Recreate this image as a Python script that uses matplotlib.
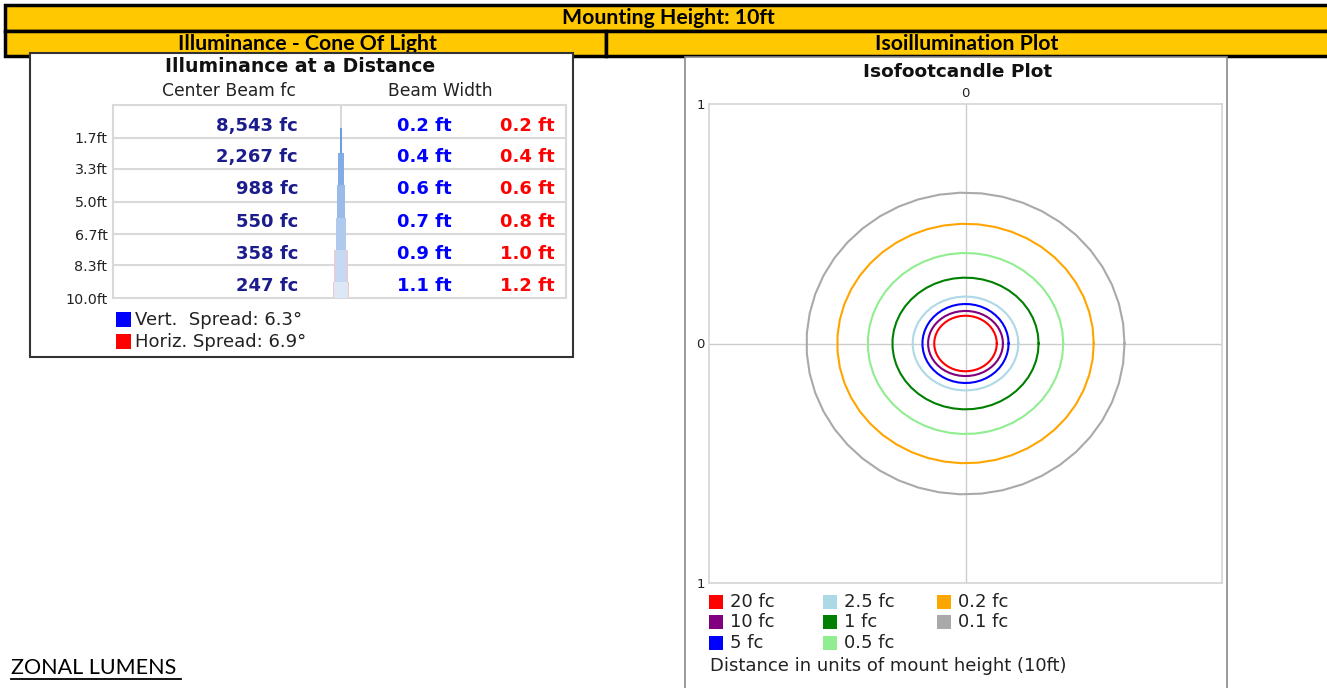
import numpy as np
import matplotlib
matplotlib.use("Agg")
import matplotlib.pyplot as plt
from matplotlib.patches import Rectangle
import matplotlib.colors as mcolors

# ---------------- data ----------------
header_title = "Mounting Height: 10ft"
left_header = "Illuminance - Cone Of Light"
right_header = "Isoillumination Plot"

distances = [1.7, 3.3, 5.0, 6.7, 8.3, 10.0]
distance_labels = ["1.7ft", "3.3ft", "5.0ft", "6.7ft", "8.3ft", "10.0ft"]
center_fc = [8543, 2267, 988, 550, 358, 247]
vert_width = [0.2, 0.4, 0.6, 0.7, 0.9, 1.1]
horiz_width = [0.2, 0.4, 0.6, 0.8, 1.0, 1.2]
vert_spread = 6.3
horiz_spread = 6.9

iso_levels = ["20 fc", "10 fc", "5 fc", "2.5 fc", "1 fc", "0.5 fc", "0.2 fc", "0.1 fc"]
iso_colors = ["#FF0000", "#800080", "#0000FF", "#ADD8E6", "#008000", "#90EE90", "#FFA500", "#A9A9A9"]
iso_rx = [0.122, 0.146, 0.168, 0.206, 0.285, 0.381, 0.500, 0.620]
iso_ry = [0.116, 0.136, 0.165, 0.196, 0.275, 0.378, 0.500, 0.630]

# ---------------- figure ----------------
W, H = 1327, 688
fig = plt.figure(figsize=(W / 100, H / 100), dpi=100)
fig.patch.set_facecolor("white")


def box(x0, y0, x1, y1):
    return [x0 / W, 1 - y1 / H, (x1 - x0) / W, (y1 - y0) / H]


bg = fig.add_axes([0, 0, 1, 1])
bg.set_xlim(0, W)
bg.set_ylim(H, 0)
bg.axis("off")

HFONT = "Lato"
TFONT = "DejaVu Sans"
GOLD = "#FFC800"
TXT = "#222222"

# header bars
bg.add_patch(Rectangle((5, 5), W, 26, facecolor=GOLD, edgecolor="black", lw=2.5, zorder=1))
bg.add_patch(Rectangle((5, 31), 601, 25, facecolor=GOLD, edgecolor="black", lw=2.5, zorder=1))
bg.add_patch(Rectangle((606, 31), W, 25, facecolor=GOLD, edgecolor="black", lw=2.5, zorder=1))
bg.text(668, 18, header_title, ha="center", va="center", fontsize=15.3, fontweight="bold",
        family=HFONT, zorder=2)
bg.text(307, 43.5, left_header, ha="center", va="center", fontsize=15.3, fontweight="bold",
        family=HFONT, zorder=2)
bg.text(967, 43.5, right_header, ha="center", va="center", fontsize=15.3, fontweight="bold",
        family=HFONT, zorder=2)

# left panel frame
bg.add_patch(Rectangle((30, 53), 543, 304, facecolor="white", edgecolor="#333333", lw=1.5, zorder=3))
bg.text(300, 67, "Illuminance at a Distance", ha="center", va="center", fontsize=13.6,
        fontweight="bold", family=TFONT, color="#111111", zorder=4)
bg.text(229, 91, "Center Beam fc", ha="center", va="center", fontsize=12.3,
        family=TFONT, color=TXT, zorder=4)
bg.text(440, 91, "Beam Width", ha="center", va="center", fontsize=12.3,
        family=TFONT, color=TXT, zorder=4)

# right panel frame
bg.add_patch(Rectangle((685, 57), 542, 640, facecolor="white", edgecolor="#8a8a8a", lw=1.2, zorder=3))
bg.text(958, 72, "Isofootcandle Plot", ha="center", va="center", fontsize=13.3,
        fontweight="bold", family=TFONT, color="#111111", zorder=4)

# zonal lumens
bg.text(11, 668, "ZONAL LUMENS", ha="left", va="center", fontsize=15.5, family=HFONT,
        color="black", zorder=4)
bg.plot([11, 181], [679, 679], color="black", lw=1.3, zorder=4)

# ---------------- table (illuminance at a distance) ----------------
tx0, tx1, ty0, ty1 = 113, 566, 105, 298
tab = fig.add_axes(box(tx0, ty0, tx1, ty1), zorder=5)
tab.set_xlim(tx0, tx1)
tab.set_ylim(distances[-1], 0)
tab.patch.set_alpha(0)
for s in tab.spines.values():
    s.set_color("#d9d9d9")
    s.set_linewidth(1.5)
for d in distances[:-1]:
    tab.axhline(d, color="#d9d9d9", lw=1.5, zorder=1)
tab.axvline(341, color="#d9d9d9", lw=1.5, zorder=1)
tab.set_xticks([])
tab.set_yticks(distances)
tab.set_yticklabels(distance_labels, fontsize=10.3, family=TFONT, color=TXT)
tab.tick_params(axis="y", length=0, pad=4)

prev = 0.0
for i, d in enumerate(distances):
    ym = (prev + d) / 2 + 0.22
    tab.text(298, ym, f"{center_fc[i]:,} fc", ha="right", va="center", fontsize=13,
             fontweight="bold", family=TFONT, color="#1c1c8c", zorder=3)
    tab.text(452, ym, f"{vert_width[i]:.1f} ft", ha="right", va="center", fontsize=13,
             fontweight="bold", family=TFONT, color="#0000FF", zorder=3)
    tab.text(555, ym, f"{horiz_width[i]:.1f} ft", ha="right", va="center", fontsize=13,
             fontweight="bold", family=TFONT, color="#FF0000", zorder=3)
    prev = d

# cone
cone = fig.add_axes(box(321, ty0, 361, ty1), zorder=6)
cone.set_xlim(-1.5, 1.5)
cone.set_ylim(distances[-1], 0)
cone.axis("off")
top_c = np.array(mcolors.to_rgb("#6d9de0"))
bot_c = np.array(mcolors.to_rgb("#dde8f7"))
n = len(distances)
for i, d in enumerate(distances):
    y_start = (distances[i - 1] + d) / 2 if i > 0 else d * 0.7
    y_end = (d + distances[i + 1]) / 2 if i < n - 1 else d
    ys = [y_start, y_end]
    cone.fill_betweenx(ys, -horiz_width[i] / 2, horiz_width[i] / 2, color="#f5c6c6", lw=0)
    c = top_c + (bot_c - top_c) * i / (n - 1)
    cone.fill_betweenx(ys, -vert_width[i] / 2, vert_width[i] / 2, color=c, lw=0)

# left legend
bg.add_patch(Rectangle((116, 312), 15, 15, facecolor="#0000FF", edgecolor="none", zorder=4))
bg.add_patch(Rectangle((116, 334), 15, 15, facecolor="#FF0000", edgecolor="none", zorder=4))
bg.text(135, 320, f"Vert.  Spread: {vert_spread}°", ha="left", va="center", fontsize=13,
        family=TFONT, color=TXT, zorder=4)
bg.text(135, 342, f"Horiz. Spread: {horiz_spread}°", ha="left", va="center", fontsize=13,
        family=TFONT, color=TXT, zorder=4)

# ---------------- isofootcandle plot ----------------
iso = fig.add_axes(box(709, 104, 1222, 583), zorder=5)
iso.set_xlim(-1, 1)
iso.set_ylim(-1, 1)
iso.patch.set_alpha(0)
for s in iso.spines.values():
    s.set_color("#d4d4d4")
    s.set_linewidth(1.2)
iso.axhline(0, color="#cccccc", lw=1.0, zorder=1)
iso.axvline(0, color="#cccccc", lw=1.0, zorder=1)
iso.xaxis.tick_top()
iso.set_xticks([0])
iso.set_xticklabels(["0"], fontsize=9.5, family=TFONT, color=TXT)
iso.set_yticks([1, 0, -1])
iso.set_yticklabels(["1", "0", "1"], fontsize=9.5, family=TFONT, color=TXT)
iso.tick_params(length=0, pad=3)
t = np.linspace(0, 2 * np.pi, 48)
for rx, ry, col in zip(iso_rx, iso_ry, iso_colors):
    iso.plot(rx * np.cos(t), ry * np.sin(t), color=col, lw=1.5, zorder=3)

# iso legend (column-major, 3 rows)
col_x = [709, 823, 937]
row_y = [602, 622, 643]
for k, (lab, col) in enumerate(zip(iso_levels, iso_colors)):
    cx = col_x[k // 3]
    cy = row_y[k % 3]
    bg.add_patch(Rectangle((cx, cy - 7), 14, 14, facecolor=col, edgecolor="none", zorder=4))
    bg.text(cx + 21, cy, lab, ha="left", va="center", fontsize=13, family=TFONT,
            color=TXT, zorder=4)
bg.text(710, 666, "Distance in units of mount height (10ft)", ha="left", va="center",
        fontsize=13, family=TFONT, color=TXT, zorder=4)

fig.savefig("out.png", dpi=100, facecolor="white")
